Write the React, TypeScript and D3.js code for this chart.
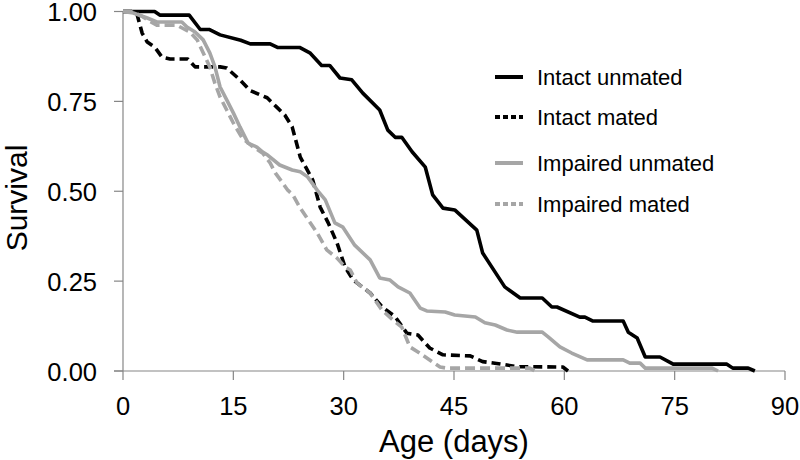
import React from "react";
import * as d3 from "d3";

const xTicks = [0, 15, 30, 45, 60, 75, 90];
const yTicks = [0, 0.25, 0.5, 0.75, 1.0];

const seriesNames = ["Intact unmated", "Intact mated", "Impaired unmated", "Impaired mated"];

const intactUnmated: [number, number][] = [
  [0, 1.0], [4.3, 1.0], [5, 0.99], [9, 0.99], [10.5, 0.95], [11.7, 0.95], [13.2, 0.935], [16, 0.92],
  [17.3, 0.91], [20, 0.91], [21, 0.9], [24, 0.9], [25.4, 0.885], [27, 0.85], [28.1, 0.85], [29.5, 0.815],
  [31.1, 0.81], [32.6, 0.773], [34.9, 0.726], [36, 0.67], [37, 0.65], [37.9, 0.65], [39.3, 0.61],
  [41.1, 0.567], [42.1, 0.49], [43.5, 0.453], [45.1, 0.448], [48.1, 0.392], [48.9, 0.328], [51.9, 0.234],
  [54, 0.203], [57, 0.203], [58.3, 0.178], [59, 0.178], [62.1, 0.15], [62.8, 0.15], [63.9, 0.139],
  [68, 0.139], [68.7, 0.108], [69.9, 0.092], [71, 0.039], [73, 0.039], [74.8, 0.019], [82.1, 0.019],
  [82.9, 0.008], [85, 0.008], [85.9, 0],
];

const intactMated: [number, number][] = [
  [0, 1], [1.4, 1], [1.9, 0.993], [2.6, 0.94], [3.3, 0.915], [4.35, 0.9], [5.3, 0.873], [6.4, 0.868],
  [8.8, 0.868], [9.8, 0.846], [13.2, 0.846], [14.1, 0.843], [15.9, 0.81], [17.3, 0.78], [19.6, 0.76],
  [20.9, 0.734], [22, 0.712], [23, 0.679], [24.1, 0.595], [25.8, 0.531], [26.8, 0.456], [27.9, 0.412],
  [29.1, 0.356], [30.2, 0.289], [31.3, 0.253], [33.6, 0.217], [35.2, 0.179], [37, 0.151], [38.6, 0.105],
  [40.1, 0.1], [41.7, 0.064], [43.5, 0.045], [47.2, 0.042], [48.9, 0.026], [50.8, 0.021], [53.6, 0.012],
  [59.8, 0.011], [60.5, 0],
];

const impairedUnmated: [number, number][] = [
  [0, 1], [1.4, 0.996], [3.3, 0.982], [4.6, 0.971], [8, 0.971], [8.7, 0.957], [9.8, 0.943], [10.9, 0.921],
  [11.8, 0.885], [12.5, 0.846], [13.2, 0.79], [14.1, 0.754], [15, 0.718], [15.9, 0.679], [17, 0.634],
  [18.2, 0.623], [19, 0.609], [19.7, 0.6], [21.3, 0.573], [23, 0.559], [24.1, 0.554], [25.1, 0.54],
  [26.4, 0.503], [27.5, 0.476], [28.8, 0.412], [29.9, 0.4], [31.5, 0.35], [33.6, 0.309], [34.9, 0.259],
  [36.3, 0.253], [37.4, 0.234], [39, 0.217], [40.4, 0.175], [41.3, 0.167], [43.8, 0.164], [45.1, 0.156],
  [47.9, 0.15], [49.2, 0.134], [50.6, 0.128], [52.2, 0.114], [53.6, 0.108], [57, 0.108], [57.8, 0.095],
  [59.4, 0.067], [61, 0.05], [63.1, 0.031], [68, 0.031], [68.9, 0.022], [70.3, 0.022], [71, 0.008],
  [80.1, 0.008], [80.9, 0],
];

const impairedMated: [number, number][] = [
  [0, 1], [1, 1], [2.3, 0.99], [3.4, 0.976], [4.6, 0.962], [7.3, 0.962], [9.1, 0.943], [10.1, 0.921],
  [10.9, 0.885], [11.8, 0.846], [12.5, 0.8], [13.2, 0.762], [14.1, 0.726], [15, 0.69], [16.2, 0.648],
  [17.7, 0.623], [19, 0.606], [20, 0.579], [20.7, 0.551], [21.6, 0.526], [22.4, 0.503], [23.1, 0.49],
  [24.1, 0.453], [25, 0.426], [26.4, 0.384], [27.7, 0.337], [29.1, 0.314], [30.2, 0.289], [30.9, 0.281],
  [31.8, 0.245], [33.6, 0.217], [35.2, 0.17], [36.7, 0.142], [37.9, 0.122], [39, 0.067], [40.1, 0.053],
  [42.1, 0.025], [43.1, 0.011], [44, 0.008], [55.3, 0.008], [56, 0],
];

const seriesData = [intactUnmated, intactMated, impairedUnmated, impairedMated];
const seriesColors = ["#000000", "#000000", "#a6a6a6", "#a6a6a6"];
const seriesDash = [null, "9,5", null, "10,5"];
const legendDash = [null, "5,3", null, "5,3"];

export default function App() {
  const left = 123, right = 785, top = 11.5, bottom = 371;
  const x = d3.scaleLinear().domain([0, 90]).range([left, right]);
  const y = d3.scaleLinear().domain([0, 1]).range([bottom, top]);
  const line = d3.line<[number, number]>().x((d) => x(d[0])).y((d) => y(d[1]));
  const axisColor = "#868686";
  const font = "'Liberation Sans', Arial, sans-serif";
  const legendY = [77, 117, 163, 204];

  return (
    <svg width={800} height={460} style={{ position: "absolute", left: 0, top: 0, background: "#fff" }} fontFamily={font}>
      <rect x={0} y={0} width={800} height={460} fill="#fff" />
      {/* axes */}
      <line x1={left} x2={left} y1={top} y2={bottom} stroke={axisColor} strokeWidth={1.2} />
      <line x1={left - 9} x2={right} y1={bottom} y2={bottom} stroke={axisColor} strokeWidth={1.2} />
      {yTicks.map((t) => (
        <g key={"y" + t}>
          <line x1={left - 9} x2={left} y1={y(t)} y2={y(t)} stroke={axisColor} strokeWidth={1.2} />
          <text x={97} y={y(t) + 1} dy="0.35em" textAnchor="end" fontSize={25.5} fill="#000">
            {t.toFixed(2)}
          </text>
        </g>
      ))}
      {xTicks.map((t) => (
        <g key={"x" + t}>
          <line x1={x(t)} x2={x(t)} y1={bottom} y2={bottom + 9} stroke={axisColor} strokeWidth={1.2} />
          <text x={x(t)} y={415} textAnchor="middle" fontSize={25.5} fill="#000">
            {t}
          </text>
        </g>
      ))}
      <text x={(left + right) / 2} y={452} textAnchor="middle" fontSize={31} fill="#000">
        Age (days)
      </text>
      <text transform={`translate(27,198) rotate(-90)`} textAnchor="middle" fontSize={30} fill="#000">
        Survival
      </text>
      {/* series */}
      {seriesData.map((d, i) => (
        <path
          key={seriesNames[i]}
          d={line(d) || ""}
          fill="none"
          stroke={seriesColors[i]}
          strokeWidth={3.6}
          strokeDasharray={seriesDash[i] || undefined}
          strokeLinejoin="round"
        />
      ))}
      {/* legend */}
      {seriesNames.map((name, i) => (
        <g key={"lg" + name}>
          <line
            x1={495}
            x2={523}
            y1={legendY[i]}
            y2={legendY[i]}
            stroke={seriesColors[i]}
            strokeWidth={4}
            strokeDasharray={legendDash[i] || undefined}
          />
          <text x={537} y={legendY[i]} dy="0.35em" fontSize={22} fill="#000">
            {name}
          </text>
        </g>
      ))}
    </svg>
  );
}
